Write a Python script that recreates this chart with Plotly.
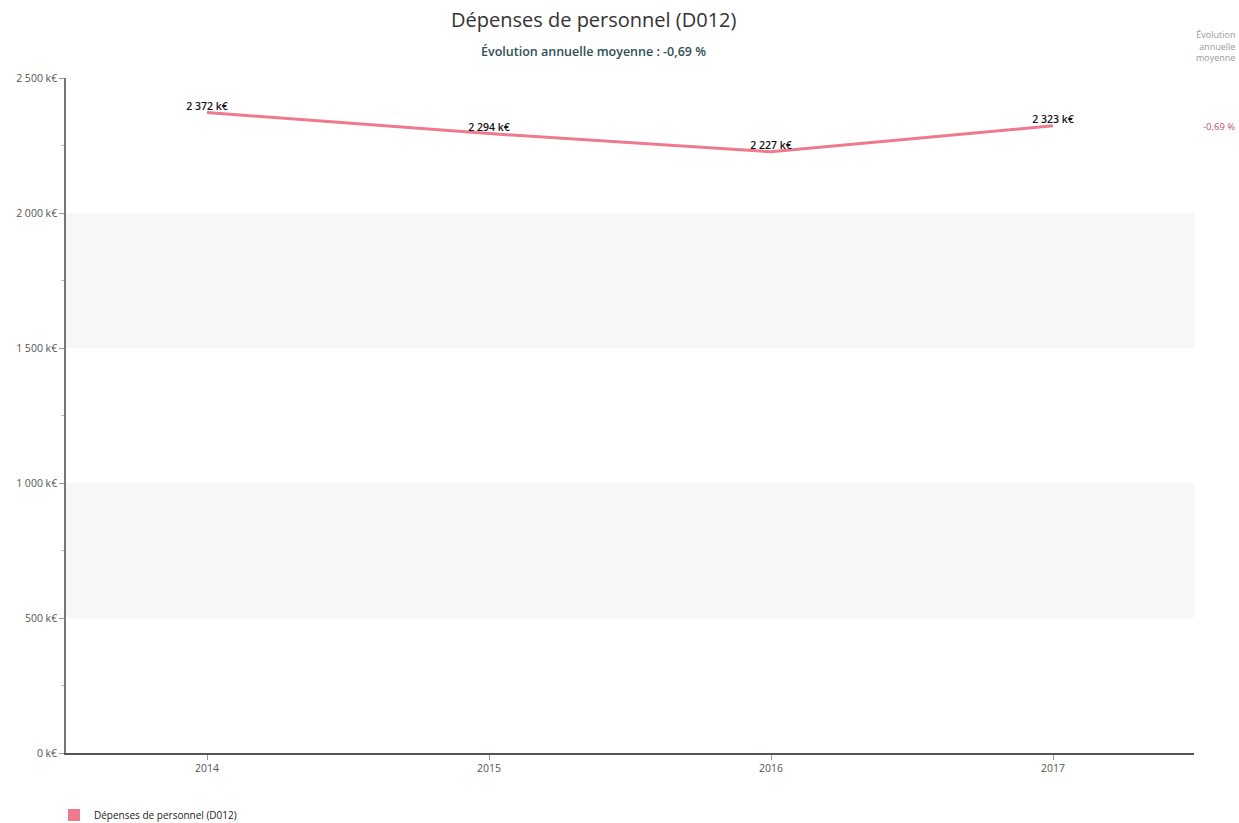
import plotly.graph_objects as go

# Series data
years = ["2014", "2015", "2016", "2017"]
depenses = [2372, 2294, 2227, 2323]  # k€
evolution_moyenne = "-0,69 %"

# Y axis ticks
y_ticks = [0, 500, 1000, 1500, 2000, 2500]
y_tick_labels = ["0 k€", "500 k€", "1 000 k€", "1 500 k€", "2 000 k€", "2 500 k€"]

LINE_COLOR = "#EE7A8D"
FONT = "Open Sans"


def fmt_keur(v):
    s = f"{v:,}".replace(",", " ")
    return f"{s} k€"


fig = go.Figure()

fig.add_trace(go.Scatter(
    x=years, y=depenses,
    mode="lines+text",
    line=dict(color=LINE_COLOR, width=3),
    text=[fmt_keur(v) for v in depenses],
    textposition="top center",
    textfont=dict(family=FONT, size=10.5, color="#111111", weight=600),
    showlegend=False,
    hoverinfo="skip",
    cliponaxis=False,
))

# Legend entry with a square swatch
fig.add_trace(go.Scatter(
    x=[None], y=[None], mode="markers",
    marker=dict(symbol="square", size=17, color=LINE_COLOR),
    name="Dépenses de personnel (D012)",
    showlegend=True,
))

# Alternating light bands between major gridlines
shapes = []
for i in range(1, len(y_ticks) - 1, 2):
    shapes.append(dict(
        type="rect", xref="paper", yref="y",
        x0=0, x1=1, y0=y_ticks[i], y1=y_ticks[i + 1],
        fillcolor="#F7F7F7", line=dict(width=0), layer="below",
    ))

fig.update_layout(
    width=1239, height=823,
    margin=dict(l=66, r=45, t=78, b=70),
    paper_bgcolor="white",
    plot_bgcolor="white",
    shapes=shapes,
    font=dict(family=FONT, color="#444444"),
    xaxis=dict(
        type="category",
        range=[-0.5, 3.5],
        showgrid=False,
        showline=True, linecolor="#555555", linewidth=1.5,
        ticks="outside", ticklen=5, tickcolor="#999999",
        tickfont=dict(size=10.5, color="#555555"),
        zeroline=False,
        fixedrange=True,
    ),
    yaxis=dict(
        range=[0, 2500],
        tickmode="array", tickvals=y_ticks, ticktext=y_tick_labels,
        showgrid=False,
        showline=True, linecolor="#777777", linewidth=1.5,
        ticks="outside", ticklen=5, tickcolor="#999999",
        tickfont=dict(size=10.5, color="#555555"),
        minor=dict(dtick=250, ticks="outside", ticklen=3, tickcolor="#BBBBBB"),
        zeroline=False,
        fixedrange=True,
    ),
    legend=dict(
        orientation="h",
        xref="container", yref="container",
        x=54 / 1239, xanchor="left",
        y=8 / 823, yanchor="middle",
        font=dict(size=10, color="#222222"),
        itemsizing="constant",
        bgcolor="rgba(0,0,0,0)",
    ),
    annotations=[
        dict(
            text="Dépenses de personnel (D012)",
            xref="paper", yref="paper", x=0.468, y=1.0 + 58 / 675,
            xanchor="center", yanchor="middle", showarrow=False,
            font=dict(family=FONT, size=20, color="#333333"),
        ),
        dict(
            text="Évolution annuelle moyenne : " + evolution_moyenne,
            xref="paper", yref="paper", x=0.468, y=1.0 + 26 / 675,
            xanchor="center", yanchor="middle", showarrow=False,
            font=dict(family=FONT, size=12.5, color="#2F4F55", weight=600),
        ),
        dict(
            text="Évolution<br>annuelle<br>moyenne",
            xref="paper", yref="paper", x=1.0 + 43 / 1128, y=1.0 + 32 / 675,
            xanchor="right", yanchor="middle", align="right", showarrow=False,
            font=dict(family=FONT, size=9, color="#999999"),
        ),
        dict(
            text=evolution_moyenne,
            xref="paper", yref="paper", x=1.0 + 43 / 1128, y=1.0 - 49 / 675,
            xanchor="right", yanchor="middle", showarrow=False,
            font=dict(family=FONT, size=9.5, color="#C0506A"),
        ),
    ],
)

fig.write_html("out.html")
